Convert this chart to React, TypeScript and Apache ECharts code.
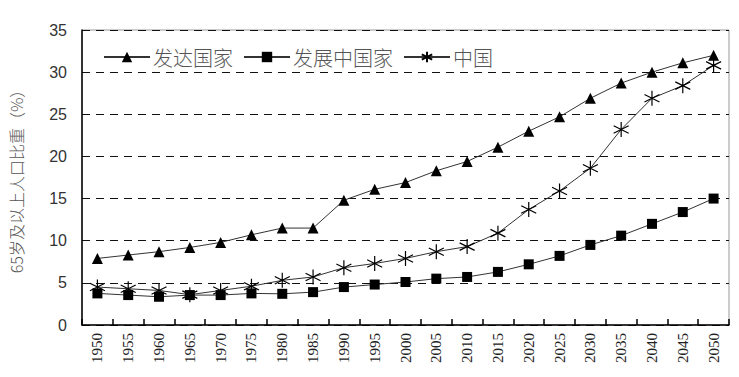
import React, { useEffect, useRef } from "react";
import * as echarts from "echarts";

const years = ["1950","1955","1960","1965","1970","1975","1980","1985","1990","1995","2000","2005","2010","2015","2020","2025","2030","2035","2040","2045","2050"];
const developed = [7.9, 8.3, 8.7, 9.2, 9.8, 10.7, 11.5, 11.5, 14.8, 16.1, 16.9, 18.3, 19.4, 21.1, 23.0, 24.7, 26.9, 28.7, 30.0, 31.1, 32.0];
const developing = [3.75, 3.55, 3.35, 3.55, 3.55, 3.75, 3.7, 3.9, 4.5, 4.8, 5.1, 5.5, 5.7, 6.3, 7.2, 8.2, 9.5, 10.6, 12.0, 13.4, 15.0];
const china = [4.5, 4.3, 4.1, 3.6, 4.1, 4.6, 5.3, 5.7, 6.8, 7.3, 7.9, 8.7, 9.3, 10.9, 13.7, 15.9, 18.6, 23.2, 26.9, 28.4, 30.8];
const seriesNames = ["发达国家", "发展中国家", "中国"];
const yTicks = [0, 5, 10, 15, 20, 25, 30, 35];
const yAxisTitle = "65岁及以上人口比重（%）";

const asterisk = "path://M0,-10 L0,10 M-8.66,-5 L8.66,5 M-8.66,5 L8.66,-5";

export default function App() {
  const ref = useRef<HTMLDivElement>(null);
  useEffect(() => {
    if (!ref.current) return;
    const chart = echarts.init(ref.current, null, { renderer: "svg" });
    const lineStyle = { color: "#333", width: 1 };
    chart.setOption({
      animation: false,
      backgroundColor: "#fff",
      grid: { left: 77, right: 10, top: 30, bottom: 52, show: true, borderColor: "#999", borderWidth: 1 },
      legend: {
        left: 98,
        top: 42,
        itemWidth: 46,
        itemHeight: 13,
        itemGap: 10,
        textStyle: { fontFamily: "Noto Sans CJK SC", fontSize: 20, color: "#555", fontWeight: 300, padding: [0, 0, 0, -2] },
        data: seriesNames,
      },
      xAxis: {
        type: "category",
        data: years,
        boundaryGap: true,
        axisLine: { lineStyle: { color: "#000", width: 1.5 } },
        axisTick: { show: true, inside: true, length: 6, alignWithLabel: false, lineStyle: { color: "#000", width: 1.5 } },
        axisLabel: { rotate: 90, fontFamily: "Liberation Serif", fontSize: 15, color: "#222", margin: 8, interval: 0 },
        splitLine: { show: false },
      },
      yAxis: {
        type: "value",
        min: yTicks[0],
        max: yTicks[yTicks.length - 1],
        interval: 5,
        name: yAxisTitle,
        nameLocation: "middle",
        nameGap: 58,
        nameRotate: 90,
        nameTextStyle: { fontFamily: "Noto Sans CJK SC", fontSize: 16, color: "#555", fontWeight: 300 },
        axisLine: { show: true, lineStyle: { color: "#000", width: 1.5 } },
        axisTick: { show: false },
        axisLabel: { fontFamily: "Liberation Sans", fontSize: 16, color: "#333", margin: 15 },
        splitLine: { show: true, lineStyle: { color: "#111", type: [8, 6], width: 1.2 } },
      },
      series: [
        {
          name: seriesNames[0], type: "line", data: developed,
          symbol: "triangle", symbolSize: 11,
          lineStyle, itemStyle: { color: "#000" },
        },
        {
          name: seriesNames[1], type: "line", data: developing,
          symbol: "rect", symbolSize: 10,
          lineStyle, itemStyle: { color: "#000" },
        },
        {
          name: seriesNames[2], type: "line", data: china,
          symbol: asterisk, symbolSize: 15,
          lineStyle, itemStyle: { color: "#000", borderColor: "#000", borderWidth: 1.2 },
        },
      ],
    });
    return () => chart.dispose();
  }, []);
  return <div ref={ref} style={{ width: 739, height: 377, position: "absolute", left: 0, top: 0 }} />;
}
